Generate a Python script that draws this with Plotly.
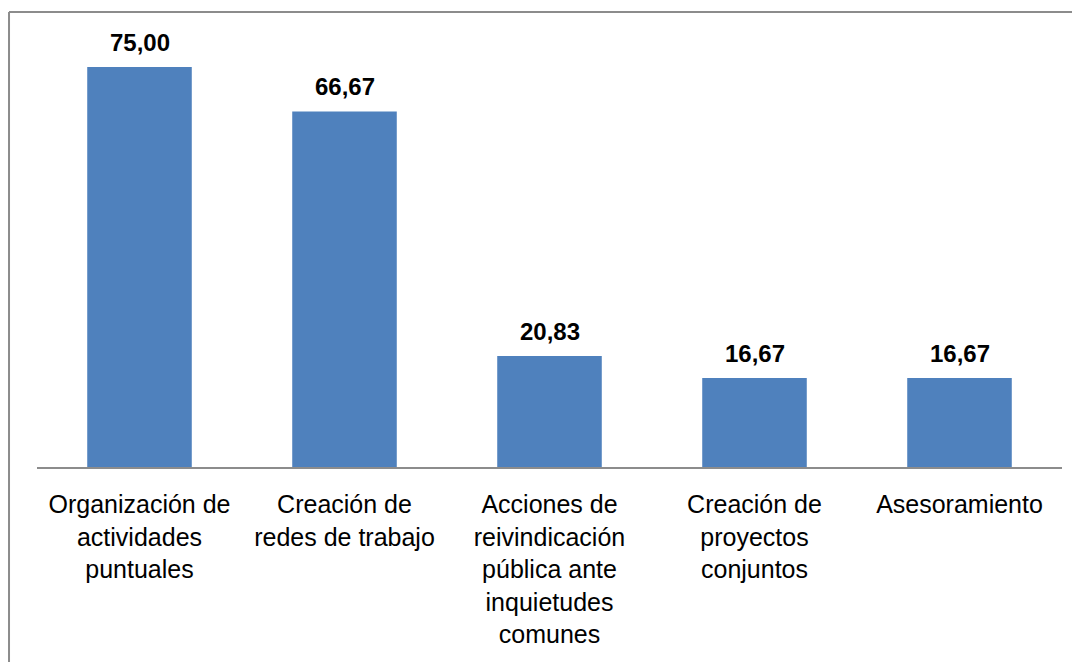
import plotly.graph_objects as go

categories = [
    "Organización de<br>actividades<br>puntuales",
    "Creación de<br>redes de trabajo",
    "Acciones de<br>reivindicación<br>pública ante<br>inquietudes<br>comunes",
    "Creación de<br>proyectos<br>conjuntos",
    "Asesoramiento",
]
values = [75.00, 66.67, 20.83, 16.67, 16.67]
value_labels = ["75,00", "66,67", "20,83", "16,67", "16,67"]

FONT = "Liberation Sans, Arial, sans-serif"

fig = go.Figure(
    go.Bar(
        x=categories,
        y=values,
        marker=dict(color="#4F81BD", line=dict(width=0)),
        width=0.51,
        hoverinfo="x+y",
    )
)

annotations = [
    dict(x=c, y=v, xref="x", yref="y", text="<b>%s</b>" % t,
         showarrow=False, yanchor="bottom", yshift=9,
         font=dict(family=FONT, size=24, color="black"))
    for c, v, t in zip(categories, values, value_labels)
]

fig.update_layout(
    width=1072,
    height=654,
    margin=dict(l=29, r=18, t=32, b=195),
    paper_bgcolor="white",
    plot_bgcolor="white",
    showlegend=False,
    font=dict(family=FONT, size=25, color="black"),
    xaxis=dict(
        showline=True,
        linecolor="#8C8C8C",
        linewidth=2,
        ticks="",
        tickfont=dict(family=FONT, size=25, color="black"),
        tickangle=0,
        ticklabelstandoff=14,
        showgrid=False,
    ),
    yaxis=dict(
        range=[0, 80.06],
        showticklabels=False,
        showgrid=False,
        zeroline=False,
        showline=False,
        ticks="",
    ),
    annotations=annotations,
    shapes=[
        dict(type="line", xref="paper", yref="paper",
             x0=-0.0273, x1=1.2, y0=1.0656, y1=1.0656,
             line=dict(color="#8C8C8C", width=2)),
        dict(type="line", xref="paper", yref="paper",
             x0=-0.0273, x1=-0.0273, y0=1.0656, y1=-0.6,
             line=dict(color="#8C8C8C", width=2)),
    ],
)

fig.write_html("out.html")
